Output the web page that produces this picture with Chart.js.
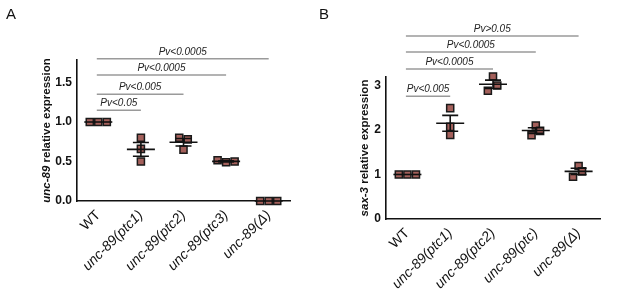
<!DOCTYPE html>
<html><head><meta charset="utf-8">
<script src="https://cdn.jsdelivr.net/npm/chart.js@4"></script>
<style>
html,body{margin:0;padding:0;background:#fff;width:617px;height:296px;overflow:hidden;font-family:"Liberation Sans",Arial,sans-serif;}
#wa{position:absolute;left:0;top:0;width:300px;height:296px;}
#wb{position:absolute;left:300px;top:0;width:317px;height:296px;}
.pl{position:absolute;font-size:15px;color:#111;}
</style></head><body>
<div id="wa"><canvas id="ca"></canvas></div>
<div id="wb"><canvas id="cb"></canvas></div>
<div class="pl" style="left:6px;top:5px">A</div>
<div class="pl" style="left:319px;top:5px">B</div>
<script>
// ---- Panel A data ----
const catsA = ["WT","unc-89(ptc1)","unc-89(ptc2)","unc-89(ptc3)","unc-89(Δ)"];
const a_WT   = [1.00, 1.00, 1.00];
const a_ptc1 = [0.80, 0.66, 0.50];
const a_ptc2 = [0.80, 0.78, 0.65];
const a_ptc3 = [0.515, 0.49, 0.50];
const a_del  = [0.00, 0.00, 0.00];
const a_jitter = [[-0.2,0,0.2],[0,0,0],[-0.1,0.1,0],[-0.2,0,0.2],[-0.2,0,0.2]];
const a_yTicks = [0, 0.5, 1.0, 1.5];
const a_sig = [ // [fromIdx, toIdx, yValue, label]
  [0,1,1.15,"Pv<0.05"],
  [0,2,1.35,"Pv<0.005"],
  [0,3,1.595,"Pv<0.0005"],
  [0,4,1.80,"Pv<0.0005"]
];
// ---- Panel B data ----
const catsB = ["WT","unc-89(ptc1)","unc-89(ptc2)","unc-89(ptc)","unc-89(Δ)"];
const b_WT   = [1.00, 1.00, 1.00];
const b_ptc1 = [2.49, 2.07, 1.89];
const b_ptc2 = [3.20, 3.00, 2.88];
const b_ptc  = [2.10, 1.98, 1.88];
const b_del  = [1.19, 1.07, 0.95];
const b_jitter = [[-0.2,0,0.2],[0,0,0],[0,0.1,-0.12],[0,0.1,-0.1],[0,0.08,-0.13]];
const b_yTicks = [0, 1, 2, 3];
const b_sig = [
  [0,1,2.76,"Pv<0.005"],
  [0,2,3.37,"Pv<0.0005"],
  [0,3,3.75,"Pv<0.0005"],
  [0,4,4.11,"Pv>0.05"]
];

const FONT = '"Liberation Sans", Arial, sans-serif';

function makePoints(groups, jit){
  const pts=[];
  groups.forEach((g,i)=>g.forEach((v,j)=>pts.push({x:i+jit[i][j], y:v})));
  return pts;
}

const statsPlugin = {
  id:'stats',
  afterDatasetsDraw(chart){
    const o = chart.options.plugins.stats; if(!o) return;
    const ctx=chart.ctx, xs=chart.scales.x, ys=chart.scales.y;
    ctx.save();
    ctx.strokeStyle='#111'; ctx.lineWidth=1.6;
    o.groups.forEach((g,i)=>{
      const n=g.length, m=g.reduce((a,b)=>a+b,0)/n;
      const sd=Math.sqrt(g.reduce((a,b)=>a+(b-m)*(b-m),0)/(n-1));
      const se=sd/Math.sqrt(n);
      const cx=xs.getPixelForValue(i);
      const ym=ys.getPixelForValue(m), yt=ys.getPixelForValue(m+se), yb=ys.getPixelForValue(m-se);
      ctx.beginPath();
      ctx.moveTo(cx-14,ym); ctx.lineTo(cx+14,ym);
      if(se>0.001){
        ctx.moveTo(cx,yt); ctx.lineTo(cx,yb);
        ctx.moveTo(cx-8,yt); ctx.lineTo(cx+8,yt);
        ctx.moveTo(cx-8,yb); ctx.lineTo(cx+8,yb);
      }
      ctx.stroke();
    });
    // significance bars
    ctx.strokeStyle='#9a9a9a'; ctx.lineWidth=1.5;
    ctx.fillStyle='#222'; ctx.font='italic 10px '+FONT;
    ctx.textAlign='center'; ctx.textBaseline='bottom';
    o.sig.forEach(s=>{
      const x1=xs.getPixelForValue(s[0])-1.5, x2=xs.getPixelForValue(s[1]);
      const y=ys.getPixelForValue(s[2]);
      ctx.beginPath(); ctx.moveTo(x1,y); ctx.lineTo(x2,y); ctx.stroke();
      ctx.fillText(s[3],(x1+x2)/2,y-2);
    });
    // y title (mixed italic / normal)
    const cy=(chart.chartArea.top+chart.chartArea.bottom)/2;
    ctx.save();
    ctx.translate(o.titleX, cy); ctx.rotate(-Math.PI/2);
    ctx.fillStyle='#111'; ctx.textBaseline='middle'; ctx.textAlign='left';
    const f1='italic bold 11.5px '+FONT, f2='bold 11.5px '+FONT;
    ctx.font=f1; const w1=ctx.measureText(o.titleA).width;
    ctx.font=f2; const w2=ctx.measureText(o.titleB).width;
    let x0=-(w1+w2)/2;
    ctx.font=f1; ctx.fillText(o.titleA,x0,0);
    ctx.font=f2; ctx.fillText(o.titleB,x0+w1,0);
    ctx.restore();
    ctx.restore();
  }
};

function build(id, cats, groups, jit, yTicks, yMax, sig, pad, yW, xH, titleA, titleB, titleX, decimals){
  new Chart(document.getElementById(id),{
    type:'scatter',
    data:{datasets:[{
      data:makePoints(groups,jit), clip:false,
      pointStyle:'rect', pointRadius:5, pointHoverRadius:5,
      backgroundColor:'#a4605b', borderColor:'#1a1a1a', borderWidth:1.5
    }]},
    plugins:[statsPlugin],
    options:{
      responsive:true, maintainAspectRatio:false, animation:false,
      layout:{padding:pad},
      plugins:{legend:{display:false},tooltip:{enabled:false},
        stats:{groups, sig, titleA, titleB, titleX}},
      scales:{
        x:{type:'linear', min:-0.5, max:4.5,
          afterBuildTicks(s){ s.ticks = cats.map((c,i)=>({value:i})); },
          afterFit(s){ s.height = xH; },
          grid:{display:false, drawTicks:true, tickLength:5, tickColor:'#111', tickWidth:1.5},
          border:{display:true, color:'#111', width:1.6},
          ticks:{autoSkip:false, minRotation:45, maxRotation:45, padding:1, color:'#111',
            font:(c)=>({family:FONT, size:14, style: (c.tick && c.tick.value===0)?'normal':'italic'}),
            callback:(v)=>cats[v]}
        },
        y:{min:0, max:yMax,
          afterBuildTicks(s){ s.ticks = yTicks.map(v=>({value:v})); },
          afterFit(s){ s.width = yW; },
          grid:{display:false, drawTicks:true, tickLength:4, tickColor:'#111', tickWidth:1.5},
          border:{display:true, color:'#111', width:1.6},
          ticks:{padding:1, color:'#111', font:{family:FONT, size:12, weight:'bold'},
            callback:(v)=>v.toFixed(decimals)}
        }
      }
    }
  });
}

build('ca', catsA, [a_WT,a_ptc1,a_ptc2,a_ptc3,a_del], a_jitter, a_yTicks, 1.785, a_sig,
  {top:60,right:10,left:0,bottom:0}, 77, 95, 'unc-89', ' relative expression', 47, 1);
build('cb', catsB, [b_WT,b_ptc1,b_ptc2,b_ptc,b_del], b_jitter, b_yTicks, 3.19, b_sig,
  {top:77,right:17,left:0,bottom:0}, 86, 77, 'sax-3', ' relative expression', 65, 0);
</script>
</body></html>
